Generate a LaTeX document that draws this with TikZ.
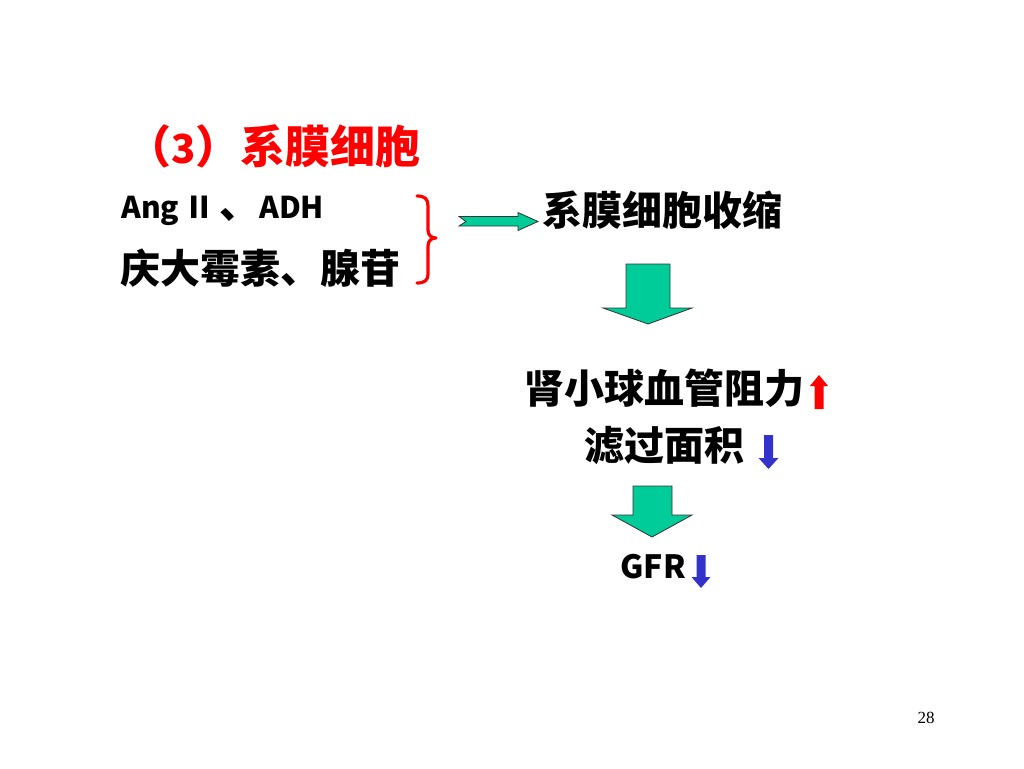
\documentclass[tikz,border=0pt]{standalone}
\usepackage{fontspec}
\newfontfamily\cjk{Noto Sans CJK SC}
\newfontfamily\serifnum{Liberation Serif}
\definecolor{arrowgreen}{HTML}{00CC99}
\definecolor{upred}{HTML}{FF0000}
\definecolor{downblue}{HTML}{3333CC}
\tikzset{
  txt/.style={inner sep=0pt, font=\cjk\bfseries\fontsize{40}{40}\selectfont},
  blockarrow/.style={fill=arrowgreen, draw=black!80, line width=0.8pt, line join=miter},
  redarrow/.style={fill=upred, draw=none},
  bluearrow/.style={fill=downblue, draw=none},
  bracestyle/.style={draw=upred, line width=3.2pt, line cap=round, line join=round}
}
\newcommand{\latsz}{\fontsize{30}{30}\selectfont}
\begin{document}
\begin{tikzpicture}[x=1pt,y=-1pt]
\useasboundingbox[fill=white] (0,0) rectangle (1024,768);
% title
\node[txt, anchor=west, text=upred, font=\cjk\bfseries\fontsize{45}{45}\selectfont] (title) at (126,146) {（{\fontsize{40}{40}\selectfont 3}）系膜细胞};
% left lines
\node[txt, anchor=west] (l1) at (121,211) {{\latsz Ang\,Ⅱ\,}、{\latsz ADH}};
\node[txt, anchor=west] (l2) at (120,268) {庆大霉素、腺苷};
% brace
\draw[bracestyle] (417,196) .. controls (425,196) and (428,199) .. (428,206) -- (428,230) .. controls (428,235) and (431,238) .. (436,238) .. controls (431,238) and (428,241) .. (428,246) -- (428,274) .. controls (428,280) and (425,283) .. (417,283);
% right arrow
\draw[blockarrow] (459,216.5) -- (518,216.5) -- (518,212.5) -- (538,221.5) -- (518,230.5) -- (518,226) -- (459,226) -- (466,221.5) -- cycle;
% right column
\node[txt] (r1) at (662,210) {系膜细胞收缩};
\draw[blockarrow] (626,264) -- (670,264) -- (670,308) -- (692,308) -- (648,324) -- (603,308) -- (626,308) -- cycle;
\node[txt] (r2) at (664,388) {肾小球血管阻力};
\draw[redarrow] (814.5,409) -- (823.5,409) -- (823.5,386) -- (828,386) -- (819,375) -- (810,386) -- (814.5,386) -- cycle;
\node[txt] (r3) at (664,446) {滤过面积};
\draw[bluearrow] (764,435) -- (773,435) -- (773,458) -- (778.5,458) -- (768.5,469) -- (758.5,458) -- (764,458) -- cycle;
\draw[blockarrow] (633,486) -- (672,486) -- (672,515) -- (692,515) -- (652,537) -- (612,515) -- (633,515) -- cycle;
\node[txt, font=\cjk\bfseries\fontsize{32}{32}\selectfont] (r4) at (653,567) {GFR};
\draw[bluearrow] (696.5,555) -- (705.5,555) -- (705.5,577) -- (710.5,577) -- (701,588) -- (691.5,577) -- (696.5,577) -- cycle;
% page number
\node[inner sep=0pt, font=\serifnum\fontsize{17}{17}\selectfont] (pg) at (926,718) {28};
\end{tikzpicture}
\end{document}
